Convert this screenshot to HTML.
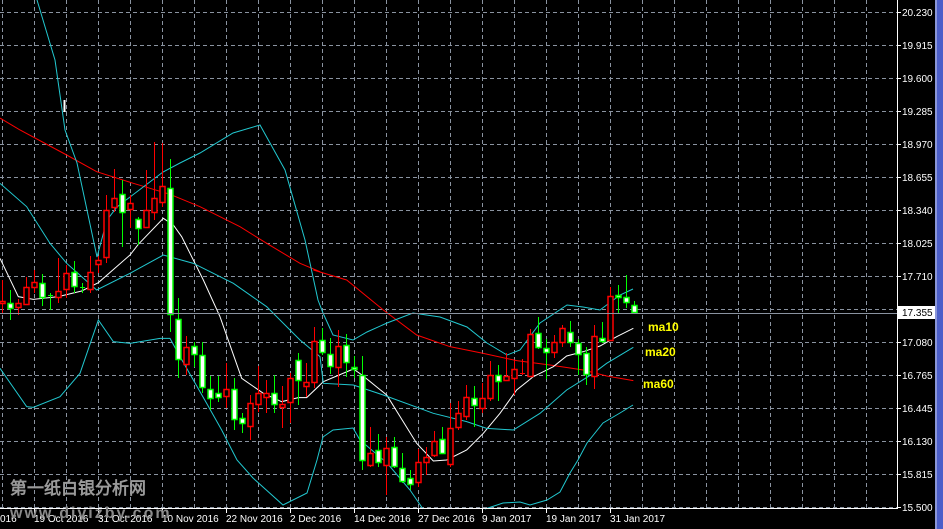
<!DOCTYPE html>
<html><head><meta charset="utf-8"><style>
html,body{margin:0;padding:0;background:#000;width:943px;height:529px;overflow:hidden}
svg{display:block}
text{font-family:"Liberation Sans","DejaVu Sans",sans-serif}
</style></head><body>
<svg id="s" width="943" height="529" xmlns="http://www.w3.org/2000/svg">
<rect width="943" height="529" fill="#000"/>
<rect x="937" y="0" width="6" height="529" fill="#4b5ec9"/>
<rect x="935" y="0" width="2" height="529" fill="#8a96d8"/>
<g id="grid" stroke="#8a93a0" stroke-width="1" stroke-dasharray="4,3"></g>
<g id="lines" fill="none" stroke-width="1"></g>
<g id="c"></g>
<line x1="0" y1="313.5" x2="897" y2="313.5" stroke="#8a93a0"/>
<line x1="897.5" y1="0" x2="897.5" y2="509" stroke="#fff"/>
<line x1="0" y1="508.5" x2="898" y2="508.5" stroke="#fff"/>
<g id="ax" fill="#fff" font-size="10"></g>
<line x1="64.5" y1="100" x2="64.5" y2="112" stroke="#fff" stroke-width="2"/>
<text x="10" y="494" font-size="17" fill="#9a9a9a" font-family="'Liberation Sans','Noto Sans CJK SC',sans-serif" font-weight="bold">第一纸白银分析网</text>
<text x="10" y="518" font-size="16" fill="#8a8a8a" font-family="'Liberation Serif',serif" font-weight="bold" letter-spacing="2">www.diyizby.com</text>
<g font-size="12" font-weight="bold" fill="#ffff00">
<text x="648" y="331">ma10</text><text x="645" y="356">ma20</text><text x="643" y="388">ma60</text></g>
</svg>
<script>
const NS="http://www.w3.org/2000/svg";
function el(p,t,a){const e=document.createElementNS(NS,t);for(const k in a)e.setAttribute(k,a[k]);p.appendChild(e);return e;}
const g=document.getElementById('grid');
for(let y=12;y<=507;y+=33) el(g,'line',{x1:0,y1:y+.5,x2:897,y2:y+.5});
for(let x=2;x<897;x+=32) el(g,'line',{x1:x+.5,y1:0,x2:x+.5,y2:508});
const ax=document.getElementById('ax');
const vals=["20.230","19.915","19.600","19.285","18.970","18.655","18.340","18.025","17.710","17.395","17.080","16.765","16.445","16.130","15.815","15.500"];
vals.forEach((v,i)=>{const y=12+33*i;el(ax,'line',{x1:897,y1:y+.5,x2:901,y2:y+.5,stroke:'#fff'});if(i!=9){const t=el(ax,'text',{x:902,y:y+4});t.textContent=v;}});
el(ax,'rect',{x:898,y:306,width:37,height:13,fill:'#fff'});
const pt=el(ax,'text',{x:902,y:316,fill:'#000'});pt.textContent="17.355";
const dates=[[0,"016"],[34,"19 Oct 2016"],[98,"31 Oct 2016"],[162,"10 Nov 2016"],[226,"22 Nov 2016"],[290,"2 Dec 2016"],[354,"14 Dec 2016"],[418,"27 Dec 2016"],[482,"9 Jan 2017"],[546,"19 Jan 2017"],[610,"31 Jan 2017"]];
dates.forEach(([x,s])=>{if(x)el(ax,'line',{x1:x+.5,y1:509,x2:x+.5,y2:513,stroke:'#fff'});const t=el(ax,'text',{x:x,y:522});t.textContent=s;});
const C=[["r",301,303,280,313],["g",303,308,290,320],["r",303,307,299,315],["r",287,304,277,304],["r",282,287,270,293],["g",283,297,274,306],["g",295,295,293,310],["r",291,297,258,303],["r",273,289,265,298],["g",272,286,261,293],["g",287,287,283,293],["r",272,289,256,293],["r",260,264,256,273],["r",210,257,195,263],["r",198,207,169,212],["g",194,212,180,247],["r",203,209,195,228],["g",219,228,217,245],["r",210,227,170,228],["r",198,212,142,220],["r",186,202,143,207],["g",188,314,159,332],["g",319,359,298,378],["r",347,364,336,375],["g",346,354,342,367],["g",355,387,342,393],["g",389,398,376,410],["g",393,397,376,402],["r",389,396,363,408],["g",389,419,378,430],["g",418,423,413,433],["r",403,426,395,440],["r",393,404,366,412],["r",393,397,380,413],["g",393,404,375,413],["r",404,407,386,428],["r",378,402,373,423],["g",360,380,353,405],["r",382,386,363,397],["r",341,382,327,388],
["g",340,352,328,355],["g",354,366,338,374],["r",346,367,330,387],["g",345,362,334,377],["g",367,369,356,378],["g",375,460,356,470],["r",453,465,427,467],["g",450,462,434,467],["r",448,465,437,495],["g",447,466,437,468],["g",468,481,453,483],["g",478,484,470,490],["r",462,482,449,487],["r",457,462,447,475],["r",441,455,431,457],["g",439,453,427,454],["r",428,464,403,467],["r",413,427,401,430],["r",397,416,385,420],["g",398,405,386,427],["r",398,408,383,413],["r",375,398,361,401],["g",375,381,365,401],["r",376,380,353,381],["r",369,378,360,395],["r",373,373,359,375],["r",334,376,329,377],["g",333,347,317,349],["g",348,352,339,379],["r",342,352,335,358],["r",328,342,325,347],["g",332,342,321,347],["g",343,354,339,375],["g",353,374,347,385],["r",336,376,325,389],["g",338,341,322,343],["r",296,340,287,341],["g",295,297,285,313],["g",297,302,275,308],["g",305,312,301,313]];
const cg=document.getElementById('c');
C.forEach((c,i)=>{const x=2+8*i;const col=c[0]=="r"?"#ff0000":"#00ff00";
el(cg,'line',{x1:x+.5,y1:c[3],x2:x+.5,y2:c[4],stroke:col});
const h=Math.max(c[2]-c[1],1);
if(h<=1){el(cg,'line',{x1:x-2,y1:c[1]+.5,x2:x+3,y2:c[1]+.5,stroke:col});}
else el(cg,'rect',{x:x-2,y:c[1]+.5,width:5,height:h,fill:c[0]=="r"?"#000":"#fff",stroke:col,'stroke-width':1.5});});
const L=document.getElementById('lines');
function z3(a){return a.map(([x,y])=>[x/3,130+y/3]);}
function z4(a){return a.map(([x,y])=>[300+x/3,270+y/3]);}
function pl(pts,col){el(L,'polyline',{points:pts.map(p=>p.join(',')).join(' '),stroke:col});}
pl([[0,118],...z3([[60,0],[200,75],[290,125],[400,160],[460,178],[510,193],[600,230],[720,290],[800,340],[900,400],[960,425]]),...z4([[40,0],[140,30],[250,120],[350,195],[450,230],[550,250],[650,272],[750,285],[850,300],[920,318],[1000,332]])],"#ff0000");
pl([...z3([[0,385],[55,500],[100,508],[175,500],[245,483],[295,458],[390,375],[415,343],[490,265],[520,285],[545,320],[610,450],[660,560],[725,745],[790,790],[845,815],[895,803],[920,803],[960,765]]),...z4([[20,383],[70,335],[160,297],[186,315],[260,375],[350,520],[400,573],[440,570],[500,540],[550,490],[600,430],[650,360],[700,320],[760,290],[800,258],[850,245],[900,228],[950,200],[1000,175]])],"#ffffff");
const cy="#22c8d0";
pl([[37,0],[55,60],[65,130],[77,163],[97,257],[107,220],[117,207],[130,197],[163,172],[180,163],[200,153],[233,133],[260,125],[285,170],[305,240],[318,300],[323,313],[333,335],[353,340],[367,332],[387,323],[413,313],[440,317],[467,327],[487,343],[507,355],[520,350],[540,323],[567,305],[583,307],[600,310],[620,295],[633,289]],cy);
pl([...z3([[0,160],[80,230],[150,340],[200,400],[290,480],[390,430],[490,375],[580,400],[700,460],[800,530],[900,630],[960,680]]),...z4([[70,340],[160,345],[250,375],[400,430],[500,455],[560,475],[640,480],[720,430],[800,360],[880,310],[920,280],[1000,232]])],cy);
pl([...z3([[0,715],[80,830],[100,832],[180,800],[240,730],[295,570],[340,635],[390,640],[480,625],[510,625],[540,680],[620,820],[665,900]]),[237,460],[253,478],[283,505],[307,493],[317,460],[323,437],[333,430],[353,428],[360,440],[387,463],[410,490],[423,509]],cy);
pl([[485,509],[503,503],[520,502],[530,505],[547,500],[560,492],[570,473],[578,460],[587,443],[603,423],[620,413],[633,405]],cy);
</script>
</body></html>
